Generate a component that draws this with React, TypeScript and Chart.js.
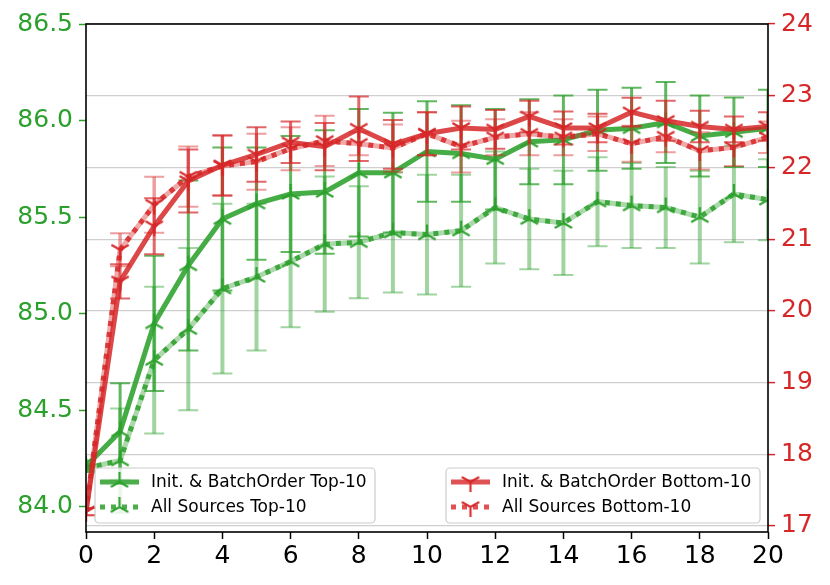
import { useEffect, useRef } from 'react'
import { Chart, registerables } from 'chart.js'

Chart.register(...registerables)

// epochs on the x axis
const epochs = [0, 1, 2, 3, 4, 5, 6, 7, 8, 9, 10, 11, 12, 13, 14, 15, 16, 17, 18, 19, 20]
const xTicks = [0, 2, 4, 6, 8, 10, 12, 14, 16, 18, 20]
const leftTicks = [84.0, 84.5, 85.0, 85.5, 86.0, 86.5]
const rightTicks = [17, 18, 19, 20, 21, 22, 23, 24]

// left axis (Top-10)
const initTop10 = [84.21, 84.39, 84.95, 85.25, 85.49, 85.57, 85.62, 85.63, 85.73, 85.73, 85.84, 85.83, 85.80, 85.89, 85.90, 85.95, 85.96, 85.99, 85.92, 85.94, 85.96]
const initTop10Err = [0.03, 0.25, 0.35, 0.44, 0.37, 0.29, 0.30, 0.32, 0.33, 0.31, 0.26, 0.25, 0.26, 0.22, 0.23, 0.21, 0.21, 0.21, 0.21, 0.18, 0.20]
const allTop10 = [84.20, 84.24, 84.76, 84.92, 85.13, 85.19, 85.27, 85.36, 85.37, 85.42, 85.41, 85.43, 85.55, 85.49, 85.47, 85.58, 85.56, 85.55, 85.50, 85.62, 85.59]
const allTop10Err = [0.02, 0.27, 0.38, 0.42, 0.44, 0.38, 0.34, 0.35, 0.29, 0.31, 0.31, 0.29, 0.29, 0.26, 0.27, 0.23, 0.22, 0.21, 0.24, 0.25, 0.21]

// right axis (Bottom-10)
const initBottom10 = [17.20, 20.41, 21.18, 21.81, 22.03, 22.18, 22.35, 22.29, 22.54, 22.32, 22.47, 22.55, 22.53, 22.71, 22.55, 22.55, 22.77, 22.65, 22.57, 22.53, 22.57]
const initBottom10Err = [0.05, 0.24, 0.39, 0.44, 0.42, 0.38, 0.29, 0.33, 0.45, 0.34, 0.30, 0.30, 0.27, 0.22, 0.23, 0.20, 0.20, 0.28, 0.22, 0.18, 0.20]
const allBottom10 = [17.20, 20.85, 21.48, 21.87, 22.02, 22.08, 22.26, 22.37, 22.33, 22.27, 22.47, 22.29, 22.42, 22.47, 22.42, 22.47, 22.33, 22.43, 22.23, 22.28, 22.42]
const allBottom10Err = [0.05, 0.23, 0.39, 0.42, 0.42, 0.39, 0.30, 0.35, 0.16, 0.33, 0.30, 0.36, 0.25, 0.30, 0.25, 0.24, 0.25, 0.22, 0.26, 0.26, 0.22]

const GREEN = '#2ca02c'
const RED = '#d62728'
const FONT = "'DejaVu Sans', sans-serif"

const pts = (ys: number[]) => epochs.map((x, i) => ({ x, y: ys[i] }))

// matplotlib-like tri markers ('2' up for green, '1' down for red)
function triMarker(color: string, down: boolean) {
  const s = 24
  const c = document.createElement('canvas')
  c.width = s; c.height = s
  const ctx = c.getContext('2d')!
  ctx.strokeStyle = color
  ctx.lineWidth = 2.2
  const angs = down ? [90, -30, -150] : [-90, 30, 150]
  ctx.beginPath()
  angs.forEach(a => {
    const r = (a * Math.PI) / 180
    ctx.moveTo(s / 2, s / 2)
    ctx.lineTo(s / 2 + 10 * Math.cos(r), s / 2 + 10 * Math.sin(r))
  })
  ctx.stroke()
  return c
}

const errorBars = {
  id: 'errorBars',
  afterDatasetDraw(chart: any, args: any) {
    const ds = chart.data.datasets[args.index]
    if (!ds.errors) return
    const xs = chart.scales.x
    const ys = chart.scales[ds.yAxisID]
    const a = chart.chartArea
    const ctx = chart.ctx
    ctx.save()
    ctx.beginPath()
    ctx.rect(a.left, a.top - 2, a.right - a.left, a.bottom - a.top + 2)
    ctx.clip()
    ctx.strokeStyle = ds.errorColor
    ds.data.forEach((p: any, i: number) => {
      const e = ds.errors[i]
      const px = xs.getPixelForValue(p.x)
      const y1 = ys.getPixelForValue(p.y - e)
      const y2 = ys.getPixelForValue(p.y + e)
      ctx.lineWidth = ds.errorWidth
      ctx.beginPath(); ctx.moveTo(px, y1); ctx.lineTo(px, y2); ctx.stroke()
      ctx.lineWidth = 2
      ctx.beginPath()
      ctx.moveTo(px - 10, y1); ctx.lineTo(px + 10, y1)
      ctx.moveTo(px - 10, y2); ctx.lineTo(px + 10, y2)
      ctx.stroke()
    })
    ctx.restore()
  },
}

type Row = { label: string; color: string; dotted: boolean; marker: HTMLCanvasElement }

function drawLegend(ctx: CanvasRenderingContext2D, x: number, y: number, w: number, h: number, rows: Row[]) {
  ctx.save()
  ctx.beginPath()
  ctx.roundRect(x, y, w, h, 4)
  ctx.fillStyle = 'rgba(255,255,255,0.8)'
  ctx.fill()
  ctx.strokeStyle = '#cccccc'
  ctx.lineWidth = 1.2
  ctx.stroke()
  rows.forEach((r, i) => {
    const ly = y + 14 + i * 25
    ctx.strokeStyle = r.color
    ctx.lineWidth = 5
    ctx.setLineDash(r.dotted ? [5, 6] : [])
    ctx.beginPath(); ctx.moveTo(x + 5, ly); ctx.lineTo(x + 44, ly); ctx.stroke()
    ctx.setLineDash([])
    ctx.drawImage(r.marker, x + 24.5 - 12, ly - 12)
    ctx.fillStyle = '#000'
    ctx.font = `17px ${FONT}`
    ctx.textBaseline = 'middle'
    ctx.fillText(r.label, x + 56, ly + 1)
  })
  ctx.restore()
}

export default function App() {
  const ref = useRef<HTMLCanvasElement>(null)
  const chart = useRef<Chart | null>(null)

  useEffect(() => {
    if (!ref.current) return
    chart.current?.destroy()

    const gMark = triMarker('rgba(44,160,44,0.95)', false)
    const rMark = triMarker('rgba(214,39,40,0.95)', true)

    const frameAndLegend = {
      id: 'frameAndLegend',
      afterDraw(c: any) {
        const a = c.chartArea
        const ctx = c.ctx as CanvasRenderingContext2D
        ctx.save()
        ctx.strokeStyle = '#000'
        ctx.lineWidth = 1.6
        ctx.strokeRect(a.left, a.top, a.right - a.left, a.bottom - a.top)
        ctx.restore()
        drawLegend(ctx, 95, 468, 280, 55, [
          { label: 'Init. & BatchOrder Top-10', color: 'rgba(44,160,44,0.85)', dotted: false, marker: gMark },
          { label: 'All Sources Top-10', color: 'rgba(44,160,44,0.85)', dotted: true, marker: gMark },
        ])
        drawLegend(ctx, 446, 468, 314, 55, [
          { label: 'Init. & BatchOrder Bottom-10', color: 'rgba(214,39,40,0.8)', dotted: false, marker: rMark },
          { label: 'All Sources Bottom-10', color: 'rgba(214,39,40,0.8)', dotted: true, marker: rMark },
        ])
      },
    }

    const line = (extra: any) => ({
      borderWidth: 5,
      tension: 0,
      pointRadius: 0,
      pointHoverRadius: 0,
      fill: false,
      ...extra,
    })

    chart.current = new Chart(ref.current, {
      type: 'line',
      data: {
        datasets: [
          line({
            label: 'Init. & BatchOrder Bottom-10', data: pts(initBottom10), yAxisID: 'yR',
            borderColor: 'rgba(214,39,40,0.85)', pointStyle: rMark, pointRadius: 10,
            errors: initBottom10Err, errorColor: 'rgba(214,39,40,0.7)', errorWidth: 3,
          }),
          line({
            label: 'All Sources Bottom-10', data: pts(allBottom10), yAxisID: 'yR',
            borderColor: 'rgba(214,39,40,0.85)', borderDash: [5, 6], pointStyle: rMark, pointRadius: 10,
            errors: allBottom10Err, errorColor: 'rgba(214,39,40,0.45)', errorWidth: 3.5,
          }),
          line({ label: '', data: pts(allBottom10), yAxisID: 'yR', borderColor: 'rgba(214,39,40,0.4)' }),
          line({
            label: 'Init. & BatchOrder Top-10', data: pts(initTop10), yAxisID: 'yL',
            borderColor: 'rgba(44,160,44,0.88)', pointStyle: gMark, pointRadius: 10,
            errors: initTop10Err, errorColor: 'rgba(44,160,44,0.75)', errorWidth: 3,
          }),
          line({
            label: 'All Sources Top-10', data: pts(allTop10), yAxisID: 'yL',
            borderColor: 'rgba(44,160,44,0.85)', borderDash: [5, 6], pointStyle: gMark, pointRadius: 10,
            errors: allTop10Err, errorColor: 'rgba(44,160,44,0.45)', errorWidth: 4,
          }),
          line({ label: '', data: pts(allTop10), yAxisID: 'yL', borderColor: 'rgba(44,160,44,0.4)' }),
        ],
      },
      options: {
        responsive: true, maintainAspectRatio: false, animation: false,
        layout: { padding: { top: 24, left: 0, right: 0, bottom: 0 } },
        plugins: { legend: { display: false }, tooltip: { enabled: false } },
        scales: {
          x: {
            type: 'linear', min: 0, max: 20,
            afterBuildTicks: (ax: any) => { ax.ticks = xTicks.map(value => ({ value })) },
            afterFit: (ax: any) => { ax.height = 53 },
            border: { display: false },
            grid: { drawOnChartArea: false, tickLength: 7, tickColor: '#000', tickWidth: 1.5 },
            ticks: { color: '#000', font: { family: FONT, size: 25 }, padding: 2, maxRotation: 0 },
          },
          yL: {
            type: 'linear', position: 'left', min: 83.87, max: 86.5,
            afterBuildTicks: (ax: any) => { ax.ticks = leftTicks.map(value => ({ value })) },
            afterFit: (ax: any) => { ax.width = 86 },
            border: { display: false },
            grid: { drawOnChartArea: false, tickLength: 7, tickColor: GREEN, tickWidth: 1.5 },
            ticks: { color: GREEN, font: { family: FONT, size: 25 }, padding: 6, callback: (v: any) => Number(v).toFixed(1) },
          },
          yR: {
            type: 'linear', position: 'right', min: 16.915, max: 24,
            afterBuildTicks: (ax: any) => { ax.ticks = rightTicks.map(value => ({ value })) },
            afterFit: (ax: any) => { ax.width = 62 },
            border: { display: false },
            grid: { color: '#cfcfcf', lineWidth: 1.2, tickLength: 7, tickColor: RED, tickWidth: 1.5 },
            ticks: { color: RED, font: { family: FONT, size: 25 }, padding: 6 },
          },
        },
      } as any,
      plugins: [errorBars, frameAndLegend],
    })
    return () => chart.current?.destroy()
  }, [])

  return (
    <div style={{ position: 'fixed', left: 0, top: 0, width: 830, height: 585, background: '#fff' }}>
      <canvas ref={ref} role="img" aria-label="Top-10 and Bottom-10 accuracy over epochs with error bars" />
    </div>
  )
}
